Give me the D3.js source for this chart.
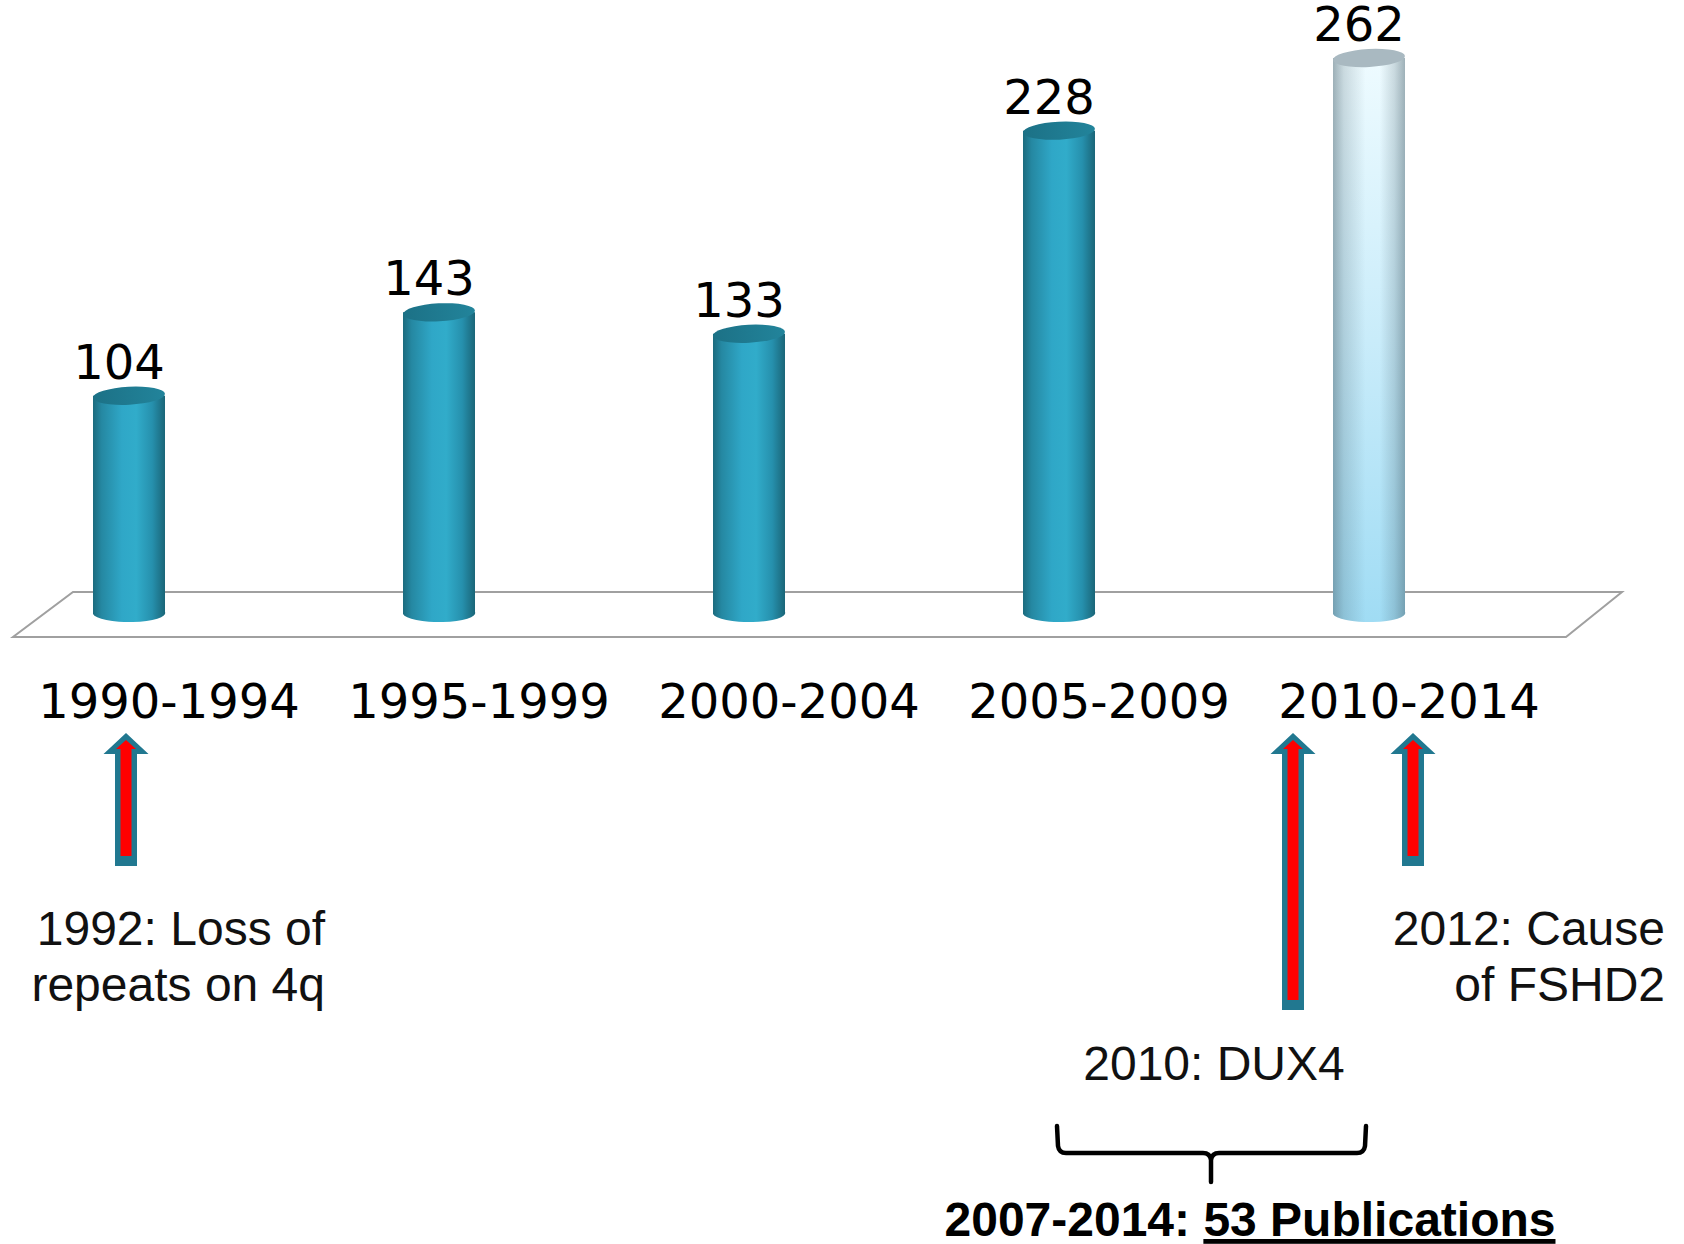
<!DOCTYPE html>
<html>
<head>
<meta charset="utf-8">
<script src="https://cdn.jsdelivr.net/npm/d3@7"></script>
<style>
  body { margin:0; background:#fff; }
</style>
</head>
<body>
<div class="chart"></div>
<script>
// data
const periods = ["1990-1994","1995-1999","2000-2004","2005-2009","2010-2014"];
const counts = [104, 143, 133, 228, 262];
const highlight = [false, false, false, false, true];

const eventYears = [1992, 2010, 2012];
const eventLines = [["1992: Loss of","repeats on 4q"], ["2010: DUX4"], ["2012: Cause","of FSHD2"]];
const summaryLead = "2007-2014: ";
const summaryTail = "53 Publications";

let outWidth = 1684, outHeight = 1244;

const svg = d3.select('.chart').append('svg')
    .attr("width", outWidth)
    .attr("height", outHeight);

const defs = svg.append("defs");

let xScale = d3.scalePoint()
    .domain(periods)
    .range([129, 1369]);

let yScale = d3.scaleLinear()
    .domain([0, 262])
    .range([618, 58]);

let yearScale = d3.scaleLinear()
    .domain([1992, 2010, 2012])
    .range([126, 1293, 1413]);

const rx = 36, ry = 9;
const base = 614;

// gradients
const teal = defs.append("linearGradient").attr("id","teal")
    .attr("x1","0").attr("x2","1").attr("y1","0").attr("y2","0");
[["0%","#1b6b7e"],["12%","#2588a2"],["40%","#2fa7c7"],["60%","#31acca"],["82%","#2690ad"],["100%","#1a6577"]]
  .forEach(s => teal.append("stop").attr("offset",s[0]).attr("stop-color",s[1]));

const light = defs.append("linearGradient").attr("id","lightV")
    .attr("x1","0").attr("x2","0").attr("y1","0").attr("y2","1");
[["0%","#eefbff"],["50%","#c9ecfa"],["100%","#a0dcf4"]]
  .forEach(s => light.append("stop").attr("offset",s[0]).attr("stop-color",s[1]));

const shade = defs.append("linearGradient").attr("id","shade")
    .attr("x1","0").attr("x2","1").attr("y1","0").attr("y2","0");
[["0%",0.45],["15%",0.2],["45%",0],["65%",0],["85%",0.2],["100%",0.45]]
  .forEach(s => shade.append("stop").attr("offset",s[0]).attr("stop-color","#3d5560").attr("stop-opacity",s[1]));

const topTeal = defs.append("linearGradient").attr("id","topTeal")
    .attr("x1","0").attr("x2","1");
[["0%","#1c7186"],["100%","#22849b"]]
  .forEach(s => topTeal.append("stop").attr("offset",s[0]).attr("stop-color",s[1]));

// floor
const floor = [[73,592],[1622,592],[1566,637],[13,637]];
svg.append("polygon")
    .attr("points", floor.map(p=>p.join(",")).join(" "))
    .attr("fill","#fff")
    .attr("stroke","#a0a0a0")
    .attr("stroke-width",2);

const bars = periods.map((p,i)=>({period:p, value:counts[i], light:highlight[i]}));

function bodyPath(d) {
    let cx = xScale(d.period), top = yScale(d.value);
    return `M${cx-rx},${top} L${cx-rx},${base} A${rx},${ry} 0 0 0 ${cx+rx},${base-2} L${cx+rx},${top} Z`;
}

const g = svg.append("g");

g.selectAll("path.body")
    .data(bars)
    .join("path")
    .attr("class","body")
    .attr("d", bodyPath)
    .attr("fill", d=> d.light ? "url(#lightV)" : "url(#teal)");

g.selectAll("path.shade")
    .data(bars.filter(d=>d.light))
    .join("path")
    .attr("class","shade")
    .attr("d", bodyPath)
    .attr("fill","url(#shade)");

g.selectAll("ellipse.top")
    .data(bars)
    .join("ellipse")
    .attr("class","top")
    .attr("cx", d=>xScale(d.period))
    .attr("cy", d=>yScale(d.value))
    .attr("rx", rx)
    .attr("ry", ry)
    .attr("transform", d=>`rotate(-3 ${xScale(d.period)} ${yScale(d.value)})`)
    .attr("fill", d=> d.light ? "#a9b9c1" : "url(#topTeal)");

// value labels
svg.selectAll("text.value")
    .data(bars)
    .join("text")
    .attr("class","value")
    .attr("x", d=>xScale(d.period)-10)
    .attr("y", d=>yScale(d.value)-17)
    .attr("text-anchor","middle")
    .attr("font-family","DejaVu Sans")
    .attr("font-size",48)
    .attr("fill","#000")
    .text(d=>d.value);

// category labels
svg.selectAll("text.cat")
    .data(periods)
    .join("text")
    .attr("class","cat")
    .attr("x", d=>xScale(d)+40)
    .attr("y", 718)
    .attr("text-anchor","middle")
    .attr("font-family","DejaVu Sans")
    .attr("font-size",48)
    .attr("fill","#000")
    .text(d=>d);

// arrows
const events = eventYears.map((y,i)=>({year:y, lines:eventLines[i]}));
const arrowTip = 733;
const arrowBottom = [866, 1010, 866];

events.forEach((e,i) => {
    let cx = yearScale(e.year), b = arrowBottom[i];
    svg.append("path")
        .attr("d", `M${cx},${arrowTip} L${cx+22.5},${arrowTip+21} L${cx+11},${arrowTip+21} L${cx+11},${b} L${cx-11},${b} L${cx-11},${arrowTip+21} L${cx-22.5},${arrowTip+21} Z`)
        .attr("fill","#217890");
    svg.append("path")
        .attr("d", `M${cx},${arrowTip+7} L${cx+10},${arrowTip+16} L${cx+5.5},${arrowTip+16} L${cx+5.5},${b-10} L${cx-5.5},${b-10} L${cx-5.5},${arrowTip+16} L${cx-10},${arrowTip+16} Z`)
        .attr("fill","#ff0000");
});

// event texts
const textStyle = t => t.attr("font-family","Liberation Sans, Arial").attr("font-size",48).attr("fill","#111");

svg.append("text").attr("x",325).attr("y",945).attr("text-anchor","end")
    .call(textStyle).text(events[0].lines[0]);
svg.append("text").attr("x",325).attr("y",1001).attr("text-anchor","end")
    .call(textStyle).text(events[0].lines[1]);

svg.append("text").attr("x",1214).attr("y",1080).attr("text-anchor","middle")
    .call(textStyle).text(events[1].lines[0]);

svg.append("text").attr("x",1665).attr("y",945).attr("text-anchor","end")
    .call(textStyle).text(events[2].lines[0]);
svg.append("text").attr("x",1665).attr("y",1001).attr("text-anchor","end")
    .call(textStyle).text(events[2].lines[1]);

// brace
svg.append("path")
    .attr("d","M1057,1126 L1058,1146 Q1059,1153 1066,1153 L1203,1153 Q1210,1153 1211,1160 L1211,1182 M1211,1160 Q1212,1153 1219,1153 L1357,1153 Q1364,1153 1365,1146 L1366,1126")
    .attr("fill","none")
    .attr("stroke","#000")
    .attr("stroke-width",4.5)
    .attr("stroke-linecap","round");

const summary = svg.append("text")
    .attr("x",1250)
    .attr("y",1236)
    .attr("text-anchor","middle")
    .attr("font-family","Liberation Sans, Arial")
    .attr("font-weight","bold")
    .attr("font-size",48)
    .attr("fill","#000");
summary.append("tspan").text(summaryLead);
summary.append("tspan").attr("text-decoration","underline").text(summaryTail);
</script>
</body>
</html>
